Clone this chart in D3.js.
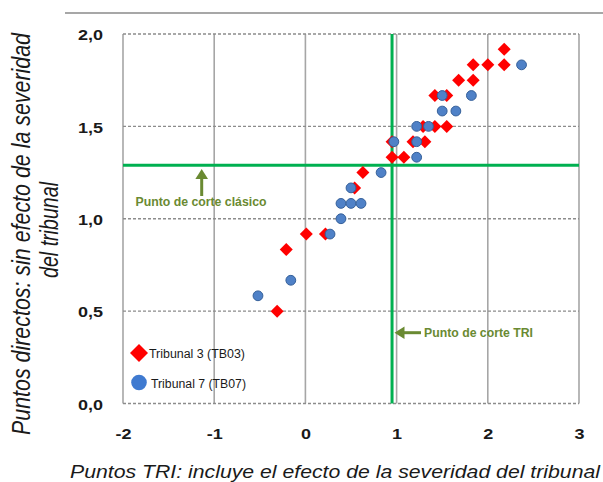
<!DOCTYPE html>
<html><head><meta charset="utf-8">
<script src="https://cdn.jsdelivr.net/npm/d3@7"></script>
<style>body{margin:0;background:#fff}svg{display:block}</style>
</head><body>
<script>
const xTicks = [-2, -1, 0, 1, 2, 3];
const yTicks = [0, 0.5, 1.0, 1.5, 2.0];
const seriesNames = ["Tribunal 3 (TB03)", "Tribunal 7 (TB07)"];
const tb03X = [-0.31,-0.21,0.01,0.22,0.54,0.63,0.95,1.08,0.95,1.18,1.31,1.29,1.42,1.55,1.42,1.55,1.68,1.84,1.84,2.0,2.18,2.18];
const tb03Y = [0.5,0.833,0.917,0.917,1.167,1.25,1.333,1.333,1.417,1.417,1.417,1.5,1.5,1.5,1.667,1.667,1.75,1.75,1.833,1.833,1.833,1.917];
const tb07X = [-0.52,-0.16,0.27,0.39,0.39,0.50,0.61,0.50,0.83,1.22,0.97,1.22,1.22,1.35,1.50,1.65,1.50,1.82,2.37];
const tb07Y = [0.583,0.667,0.917,1.0,1.083,1.083,1.083,1.167,1.25,1.333,1.417,1.417,1.5,1.5,1.583,1.583,1.667,1.667,1.833];
const cutTRI = 0.95;
const cutClassic = 1.29;

const W = 603, H = 482;
const svg = d3.select("body").append("svg").attr("width", W).attr("height", H);
const x = d3.scaleLinear().domain([-2, 3]).range([123, 579]);
const y = d3.scaleLinear().domain([0, 2]).range([403.5, 34]);
const green = "#00b050", olive = "#6a8a32";
const lf = "Liberation Sans, Arial, sans-serif";
const fmt = d => d3.format(".1f")(d).replace(".", ",");

// top rule
svg.append("line").attr("x1", 65).attr("x2", 603).attr("y1", 13).attr("y2", 13)
  .attr("stroke", "#8a8a8a").attr("stroke-width", 1.5);

// vertical grid (solid)
svg.append("g").selectAll("line").data(xTicks).join("line")
  .attr("x1", d => x(d)).attr("x2", d => x(d)).attr("y1", y(2)).attr("y2", y(0))
  .attr("stroke", "#a6a6a6").attr("stroke-width", 1.6);
// horizontal grid (dashed)
svg.append("g").selectAll("line").data(yTicks).join("line")
  .attr("x1", x(-2)).attr("x2", x(3)).attr("y1", d => y(d)).attr("y2", d => y(d))
  .attr("stroke", "#8c8c8c").attr("stroke-width", 1.3).attr("stroke-dasharray", "3,2");

// cut lines
svg.append("line").attr("x1", x(cutTRI)).attr("x2", x(cutTRI)).attr("y1", y(2)).attr("y2", y(0))
  .attr("stroke", green).attr("stroke-width", 3);
svg.append("line").attr("x1", x(-2)).attr("x2", x(3)).attr("y1", y(cutClassic)).attr("y2", y(cutClassic))
  .attr("stroke", green).attr("stroke-width", 3);

// axes tick labels
const xAxis = d3.axisBottom(x).tickValues(xTicks).tickSize(0).tickPadding(0).tickFormat(d3.format("d"));
const gx = svg.append("g").attr("transform", `translate(0,${y(0)})`).call(xAxis);
gx.select(".domain").remove();
gx.selectAll("text").attr("dy", null).attr("y", 35.5).attr("font-size", 15).attr("font-weight", "bold")
  .attr("font-family", lf).attr("fill", "#1a1a1a").attr("transform", "scale(1.2,1)")
  .text(d => d < 0 ? "-" + Math.abs(d) : d);
const yAxis = d3.axisLeft(y).tickValues(yTicks).tickSize(0).tickPadding(0).tickFormat(fmt);
const gy = svg.append("g").attr("transform", `translate(103,0)`).call(yAxis);
gy.select(".domain").remove();
gy.selectAll("text").attr("dy", "0.38em").attr("x", 0).attr("font-size", 15).attr("font-weight", "bold")
  .attr("font-family", lf).attr("fill", "#1a1a1a").attr("transform", "scale(1.2,1)");

// markers
const diamond = (s) => `M0,${-s}L${s},0L0,${s}L${-s},0Z`;
const tb03 = tb03X.map((v, i) => [v, tb03Y[i]]);
const tb07 = tb07X.map((v, i) => [v, tb07Y[i]]);
svg.append("g").selectAll("path").data(tb03).join("path")
  .attr("d", diamond(6.5)).attr("transform", d => `translate(${x(d[0])},${y(d[1])})`)
  .attr("fill", "#ff0000");
svg.append("g").selectAll("circle").data(tb07).join("circle")
  .attr("cx", d => x(d[0])).attr("cy", d => y(d[1])).attr("r", 4.9)
  .attr("fill", "#4f81c7").attr("stroke", "#35609a").attr("stroke-width", 1);

// legend
svg.append("path").attr("d", diamond(9)).attr("transform", "translate(139,353)").attr("fill", "#ff0000");
svg.append("text").attr("x", 149).attr("y", 357.5).attr("font-size", 12.5).attr("font-family", lf)
  .attr("fill", "#1a1a1a").attr("textLength", 96).attr("lengthAdjust", "spacingAndGlyphs").text(seriesNames[0]);
svg.append("circle").attr("cx", 139).attr("cy", 382.5).attr("r", 7.8).attr("fill", "#3f7ad0");
svg.append("text").attr("x", 151).attr("y", 387.5).attr("font-size", 12.5).attr("font-family", lf)
  .attr("fill", "#1a1a1a").attr("textLength", 95).attr("lengthAdjust", "spacingAndGlyphs").text(seriesNames[1]);

// annotations
svg.append("text").attr("x", 135.5).attr("y", 206).attr("font-size", 12).attr("font-weight", "bold")
  .attr("font-family", lf).attr("fill", olive).attr("textLength", 131).attr("lengthAdjust", "spacingAndGlyphs")
  .text("Punto de corte clásico");
svg.append("line").attr("x1", 201.7).attr("x2", 201.7).attr("y1", 196).attr("y2", 178).attr("stroke", olive).attr("stroke-width", 3);
svg.append("path").attr("d", "M201.7,169L208,179L195.4,179Z").attr("fill", olive);
svg.append("text").attr("x", 424).attr("y", 337).attr("font-size", 12).attr("font-weight", "bold")
  .attr("font-family", lf).attr("fill", olive).attr("textLength", 109).attr("lengthAdjust", "spacingAndGlyphs")
  .text("Punto de corte TRI");
svg.append("line").attr("x1", 421).attr("x2", 403).attr("y1", 332.7).attr("y2", 332.7).attr("stroke", olive).attr("stroke-width", 3);
svg.append("path").attr("d", "M394.5,332.7L404.5,326.4L404.5,339Z").attr("fill", olive);

// axis titles
svg.append("text").attr("x", 70).attr("y", 478).attr("font-size", 18)
  .attr("font-style", "italic").attr("font-family", lf).attr("fill", "#1a1a1a")
  .attr("textLength", 530).attr("lengthAdjust", "spacingAndGlyphs")
  .text("Puntos TRI: incluye el efecto de la severidad del tribunal");
const yt = svg.append("g").attr("transform", "scale(1.25,1)");
yt.append("text").attr("transform", "translate(24,435) rotate(-90)")
  .attr("font-size", 20).attr("font-style", "italic").attr("font-family", lf).attr("fill", "#1a1a1a")
  .attr("textLength", 402).attr("lengthAdjust", "spacingAndGlyphs")
  .text("Puntos directos: sin efecto de la severidad");
yt.append("text").attr("transform", "translate(46.4,278) rotate(-90)")
  .attr("font-size", 20).attr("font-style", "italic").attr("font-family", lf).attr("fill", "#1a1a1a")
  .attr("textLength", 96).attr("lengthAdjust", "spacingAndGlyphs")
  .text("del tribunal");
</script>
</body></html>
